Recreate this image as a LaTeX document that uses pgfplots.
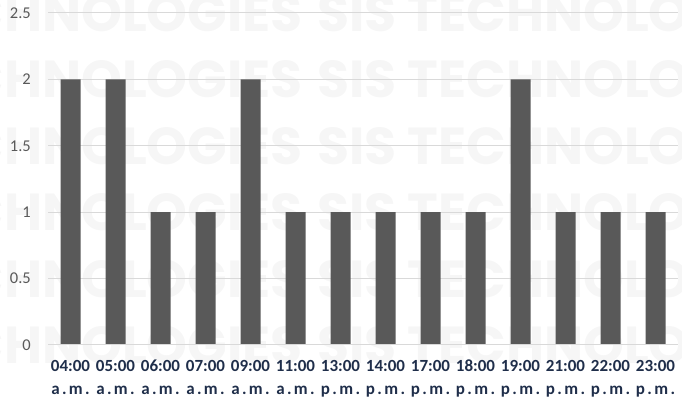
\documentclass[border=0pt]{standalone}
\usepackage{fontspec}
\setmainfont{Carlito}
\newfontfamily\wmfont{Poppins}
\newfontfamily\amfont{Carlito}[LetterSpace=14]
\usepackage{pgfplots}
\pgfplotsset{compat=1.18}
\definecolor{barc}{HTML}{595959}
\definecolor{gridc}{HTML}{D9D9D9}
\definecolor{labc}{HTML}{595959}
\definecolor{xlab}{HTML}{1F2E4A}
\definecolor{wmc}{HTML}{F6F6F6}
\begin{document}
\begin{tikzpicture}
\useasboundingbox (0pt,0pt) rectangle (682pt,401pt);
\begin{scope}
\clip (0pt,0pt) rectangle (682pt,401pt);
\foreach \yy in {369,303,236,170,103,37} {
  \node[anchor=base west, inner sep=0, text=wmc, font=\wmfont\bfseries\fontsize{52}{52}\selectfont] at (317pt,\yy pt) {SIS TECHNOLOGIES};
  \node[anchor=base east, inner sep=0, text=wmc, font=\wmfont\bfseries\fontsize{52}{52}\selectfont] at (303pt,\yy pt) {SIS TECHNOLOGIES};
}
\end{scope}
\begin{axis}[
  at={(48pt,56pt)}, anchor=south west,
  scale only axis, width=630pt, height=332pt,
  xmin=-0.5, xmax=13.5, ymin=0, ymax=2.5,
  ytick={0,0.5,1,1.5,2,2.5},
  xtick={0,1,2,3,4,5,6,7,8,9,10,11,12,13},
  xticklabels={{04:00\\\amfont a.m.},{05:00\\\amfont a.m.},{06:00\\\amfont a.m.},{07:00\\\amfont a.m.},{09:00\\\amfont a.m.},{11:00\\\amfont a.m.},{13:00\\\amfont p.m.},{14:00\\\amfont p.m.},{17:00\\\amfont p.m.},{18:00\\\amfont p.m.},{19:00\\\amfont p.m.},{21:00\\\amfont p.m.},{22:00\\\amfont p.m.},{23:00\\\amfont p.m.}},
  ymajorgrids, grid style={gridc, line width=1pt},
  axis line style={draw=none},
  major tick length=0pt,
  /pgf/number format/assume math mode=true,
  yticklabel style={font=\fontsize{16.5}{16.5}\selectfont, text=labc, inner sep=0pt, xshift=-17pt},
  xticklabel style={align=center, anchor=base, font=\bfseries\fontsize{17}{23.5}\selectfont, text=xlab, inner sep=0pt, yshift=-50pt},
  ybar, bar width=20pt,
]
\addplot[fill=barc, draw=none] coordinates {(0,2)(1,2)(2,1)(3,1)(4,2)(5,1)(6,1)(7,1)(8,1)(9,1)(10,2)(11,1)(12,1)(13,1)};
\draw[color=gridc, line width=2pt] (axis cs:-0.43,0) -- (axis cs:13.4,0);
\end{axis}
\end{tikzpicture}
\end{document}
